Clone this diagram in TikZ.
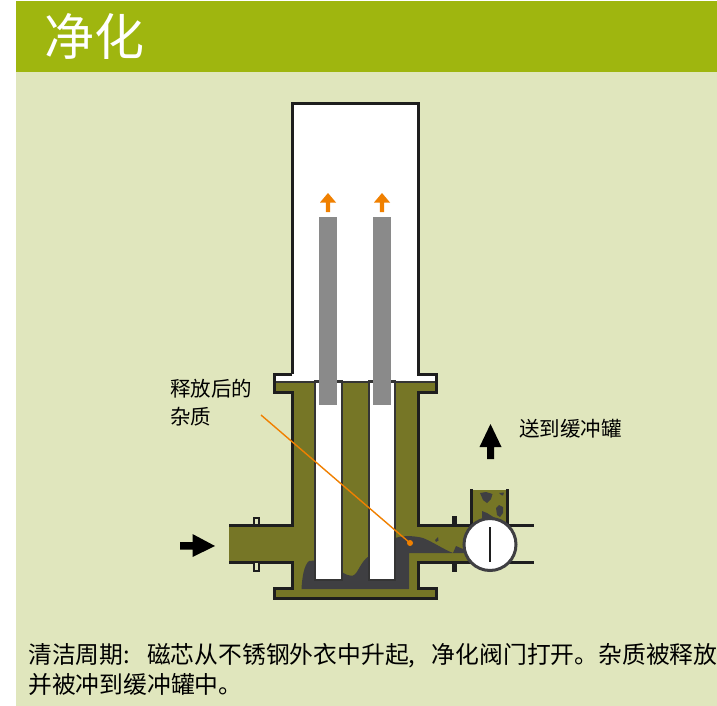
\documentclass[tikz,border=0pt]{standalone}
\usepackage{fontspec}
\newfontfamily\cjk{Noto Sans CJK SC}
\definecolor{hdr}{HTML}{9FB60F}
\definecolor{pale}{HTML}{E0E6BD}
\definecolor{oliv}{HTML}{767626}
\definecolor{sludge}{HTML}{3F3F42}
\definecolor{rod}{HTML}{8A8A8A}
\definecolor{orng}{HTML}{F08000}
\definecolor{ink}{HTML}{1E1E1E}
\tikzset{
  wall/.style={draw=ink,line width=3pt,line cap=butt,line join=miter},
  tubeb/.style={draw=ink!90,fill=white,line width=1.5pt},
  rodb/.style={fill=rod},
  lab/.style={font=\cjk\fontsize{20.5}{24}\selectfont,text=black,inner sep=0pt,anchor=west},
  captext/.style={font=\cjk\fontsize{23.8}{28}\selectfont,text=black,inner sep=0pt,anchor=west},
  orangearrow/.style={fill=orng},
  blackarrow/.style={fill=black},
}
\begin{document}
\begin{tikzpicture}[x=1pt,y=-1pt]
\useasboundingbox (0,0) rectangle (717,706);
\clip (0,0) rectangle (717,706);
\fill[white] (0,0) rectangle (717,706);
\fill[pale] (16,1) rectangle (717,706);
\fill[hdr] (16,1) rectangle (717,72);
\node[font=\cjk\fontsize{50}{54}\selectfont,text=white,inner sep=0pt,anchor=west] (title) at (44,36) {净化};
% vessel body
\fill[oliv] (274,382) -- (436,382) -- (436,392) -- (418,392) -- (418,525) -- (470,525) -- (470,562) -- (418,562) -- (418,588) -- (436,588) -- (436,598) -- (274,598) -- (274,588) -- (292,588) -- (292,562) -- (229,562) -- (229,525) -- (292,525) -- (292,392) -- (274,392) -- cycle;
% sludge
\fill[sludge] (301.5,589) .. controls (302,578) and (304,565) .. (309,561) -- (320,560) -- (342,572) .. controls (346,575) and (350,576) .. (353,575.5) .. controls (358,574) and (360,562) .. (369,556) -- (385,540) -- (395,538) .. controls (405,535) and (415,536) .. (423,538) .. controls (433,542) and (443,549) .. (453,553) -- (456,546) -- (463,549) -- (468,553) -- (420,553) -- (409,553) -- (409,589) -- cycle;
\fill[sludge] (435,540) -- (438,537) -- (438.5,540.5) -- (436,542) -- cycle;
% upper vent pipe
\fill[oliv] (471,490) rectangle (507,526);
\fill[sludge] (480,493) -- (486,492) -- (492.5,494) -- (491,499) -- (487,503) -- (483,500) -- cycle;
\fill[sludge] (499,493) -- (504,492.5) -- (503,495.5) -- (501,495) -- cycle;
\fill[sludge] (496,508) -- (499,505) -- (503,507) -- (503,513) -- (500,517) -- (497,515) -- cycle;
\fill[sludge] (482,511) -- (487,513) -- (495,518) -- (482,522) -- cycle;
\draw[wall] (471,489) -- (471,525) (507,489) -- (507,525);
\fill[white] (292,104) -- (418,104) -- (418,374) -- (436,374) -- (436,382) -- (274,382) -- (274,374) -- (292,374) -- cycle;
% white liners
\path[tubeb] (315,381) rectangle (342,580);
\path[tubeb] (369,381) rectangle (395,580);
\draw[draw=ink!90,line width=1.5pt] (274,382) -- (436,382);
% rods
\fill[rodb] (319,217) rectangle (337,405);
\fill[rodb] (373,217) rectangle (391,405);
% walls
\draw[wall] (292,374) -- (292,104) -- (418,104) -- (418,374) -- (436,374) -- (436,392) -- (418,392) -- (418,525) -- (472,525);
\draw[wall] (292,374) -- (274,374) -- (274,392) -- (292,392) -- (292,525) -- (229,525);
\draw[wall] (229,562) -- (292,562) -- (292,588) -- (274,588) -- (274,598) -- (436,598) -- (436,588) -- (418,588) -- (418,562) -- (472,562);
\draw[wall] (507,525) -- (534,525) (507,562) -- (534,562);
% flange marks
\draw[draw=ink,line width=2pt,fill=pale] (254,524) -- (254,518) -- (258.5,518) -- (258.5,524);
\draw[draw=ink,line width=2pt,fill=pale] (254,563) -- (254,570.5) -- (258.5,570.5) -- (258.5,563);
\fill[ink] (452,516) rectangle (456.5,525);
\fill[ink] (452,562) rectangle (456.5,572);
% valve
\node[circle,draw=sludge,fill=white,line width=3pt,minimum size=52pt,inner sep=0pt] (valve) at (490,544.5) {};
\draw[ink,line width=2pt] (489.5,527) -- (489.5,562);
% orange arrows
\fill[orangearrow] (328,193) -- (336,202.5) -- (330.2,202.5) -- (330.2,212) -- (325.8,212) -- (325.8,202.5) -- (320,202.5) -- cycle;
\fill[orangearrow] (382,193) -- (390,202.5) -- (384.2,202.5) -- (384.2,212) -- (379.8,212) -- (379.8,202.5) -- (374,202.5) -- cycle;
% black arrows
\fill[blackarrow] (215,546) -- (192.5,534) -- (192.5,542) -- (180,542) -- (180,549.5) -- (192.5,549.5) -- (192.5,557) -- cycle;
\fill[blackarrow] (490.5,424) -- (501.5,447) -- (494,447) -- (494,459) -- (487,459) -- (487,447) -- (479.5,447) -- cycle;
% leader
\coordinate (leadstart) at (261,415);
\node[circle,fill=orng,minimum size=6pt,inner sep=0pt] (leaddot) at (410,543) {};
\draw[orng,line width=1.4pt] (leadstart) -- (leaddot.center);
% labels
\node[lab] (l1) at (170,388.5) {释放后的};
\node[lab] (l2) at (170,416.5) {杂质};
\node[lab] (l3) at (519,428.5) {送到缓冲罐};
\node[captext] (c1) at (28,656) {清洁周期:\hspace{17pt}磁芯从不锈钢外衣中升起,\hspace{16.5pt}净化阀门打开。杂质被释放};
\node[captext] (c2) at (28,684) {并被冲到缓冲罐中。};
\end{tikzpicture}
\end{document}
